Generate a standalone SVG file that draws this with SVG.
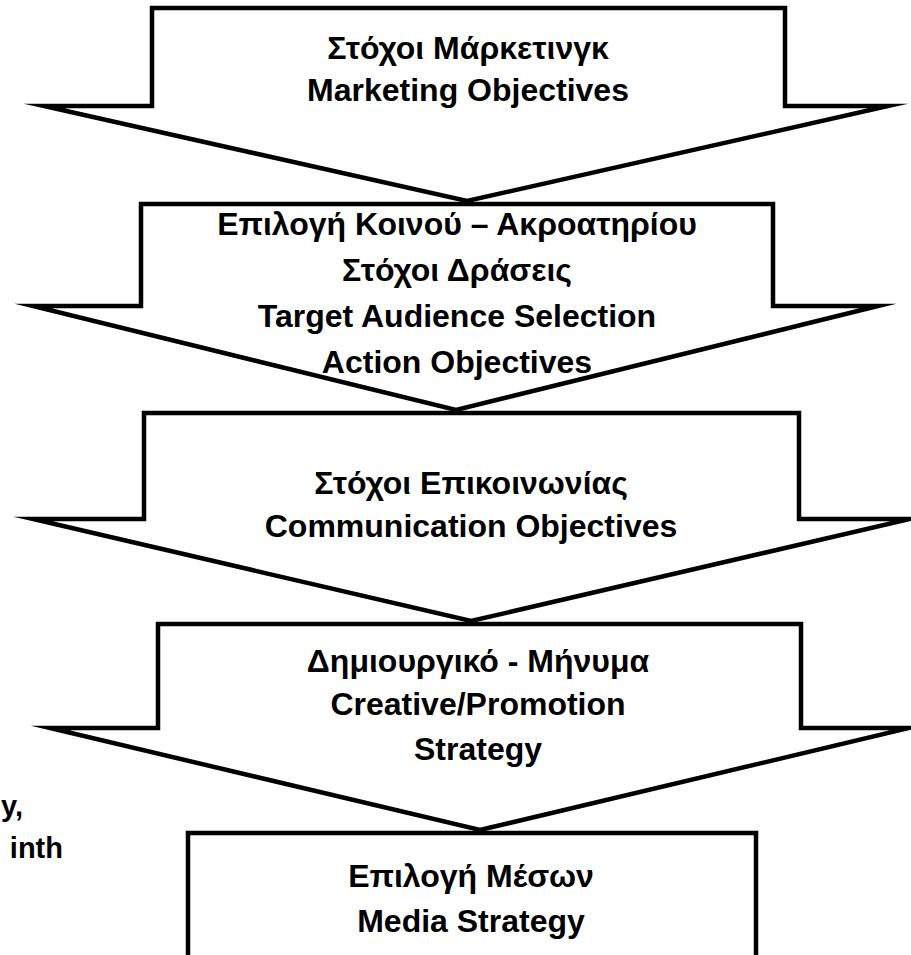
<svg xmlns="http://www.w3.org/2000/svg" width="911" height="955" viewBox="0 0 911 955">
<style>
.shape{fill:#ffffff;stroke:#000000;stroke-width:4.5;stroke-linejoin:miter;stroke-miterlimit:12}
.t{font-family:"Liberation Sans",Arial,"DejaVu Sans",sans-serif;font-weight:bold;font-size:32px;fill:#000000;text-anchor:middle}
.side{font-family:"Liberation Sans",Arial,"DejaVu Sans",sans-serif;font-weight:bold;font-size:29px;fill:#000000}
</style>
<rect x="0" y="0" width="911" height="955" fill="#ffffff"/>
<g id="side-text">
<text class="side" x="1" y="816">y,</text>
<text class="side" x="63" y="858" text-anchor="end">inth</text>
</g>
<g id="connectors"></g>
<g id="node1">
<polygon class="shape" points="152,8 785,8 785,106 888,106 467,201 44,106 152,106"/>
<text class="t" x="468" y="59">Στόχοι Μάρκετινγκ</text>
<text class="t" x="468" y="101">Marketing Objectives</text>
</g>
<g id="node2">
<polygon class="shape" points="141,204 773,204 773,306 878,306 456,410 33,306 141,306"/>
<text class="t" x="457" y="235">Επιλογή Κοινού – Ακροατηρίου</text>
<text class="t" x="457" y="281">Στόχοι Δράσεις</text>
<text class="t" x="457" y="327">Target Audience Selection</text>
<text class="t" x="457" y="373">Action Objectives</text>
</g>
<g id="node3">
<polygon class="shape" points="144,413 799,413 799,519 910,519 471,621 33,519 144,519"/>
<text class="t" x="471" y="494">Στόχοι Επικοινωνίας</text>
<text class="t" x="471" y="537">Communication Objectives</text>
</g>
<g id="node4">
<polygon class="shape" points="158,624 801,624 801,728 909,728 480,830 50,728 158,728"/>
<text class="t" x="478" y="672">Δημιουργικό - Μήνυμα</text>
<text class="t" x="478" y="715">Creative/Promotion</text>
<text class="t" x="478" y="760">Strategy</text>
</g>
<g id="node5">
<polygon class="shape" points="188,833 756,833 756,995 188,995"/>
<text class="t" x="471" y="887">Επιλογή Μέσων</text>
<text class="t" x="471" y="932">Media Strategy</text>
</g>
</svg>
